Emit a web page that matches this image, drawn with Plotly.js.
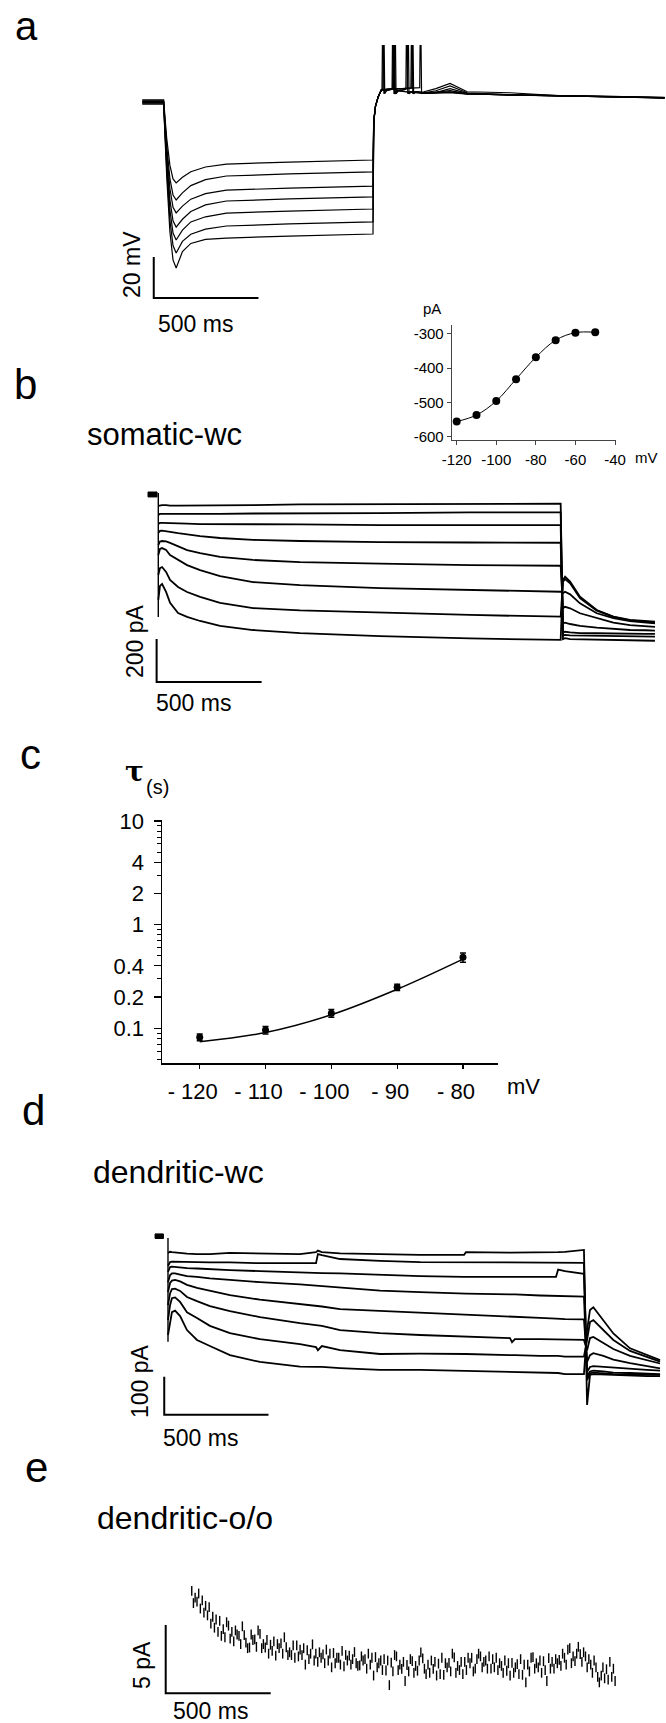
<!DOCTYPE html>
<html><head><meta charset="utf-8">
<script src="https://cdn.plot.ly/plotly-3.0.1.min.js"></script>
<style>html,body{margin:0;padding:0;background:#fff}#chart{width:666px;height:1723px}</style>
</head><body><div id="chart"></div>
<script>
// ---------------- Panel a : current-clamp voltage traces (time ms, mV rel. rest) ----------------
const A_T_STEP = [-102, -5, 0, 15, 30, 45, 60, 90, 130, 200, 300, 600, 1000];
const A_V1 = [1, 1, 1, -17.8, -30.8, -37.5, -39.5, -36.7, -34, -31.7, -30.3, -29.3, -28.3];
const A_V2 = [0.6, 0.6, 0.6, -21.5, -37.3, -45.4, -47.8, -44.3, -40.8, -37.9, -36.1, -35.1, -34.1];
const A_V3 = [0.3, 0.3, 0.3, -24.3, -42.2, -51.4, -54.1, -50.8, -47.4, -44.7, -43, -42, -41];
const A_V4 = [0, 0, 0, -27.5, -47.6, -58, -61, -57.2, -53.4, -50.2, -48.3, -47.3, -46.3];
const A_V5 = [-0.3, -0.3, -0.3, -30.3, -52.5, -63.9, -67.3, -62.5, -58.5, -56, -54.2, -53.2, -52.2];
const A_V6 = [-0.6, -0.6, -0.6, -33.2, -57.5, -70, -73.7, -68, -64.5, -62, -60.5, -59.5, -58.5];
const A_V7 = [-1, -1, -1, -36.5, -63.2, -77, -81, -73, -69, -67, -66.4, -65.4, -64.4];
// after the step (rebound + spikes)
const A_PT1 = [1003,1005,1012,1025,1040,1100,1150,1200,1223,1226,1228,1232,1244,1300,1368,1450,1654,1900,2150,2393];
const A_PV1 = [-11,-8,-2,2.6,5.9,6.3,6.6,6.8,7,40,40,4,5,6.5,9.1,5,4.5,3,2.6,1.8];
const A_PT2 = [1003,1005,1012,1025,1040,1100,1150,1185,1188,1190,1194,1206,1250,1300,1368,1450,1650,1900,2150,2393];
const A_PV2 = [-12,-8,-2,2.6,5.9,6.3,6.6,6.8,40,40,4,5,4.6,5.5,7.8,4.5,3.5,2.9,2.5,2.2];
const A_PT3 = [1003,1005,1012,1025,1040,1100,1150,1181,1184,1186,1190,1202,1250,1300,1368,1450,1650,1900,2150,2393];
const A_PV3 = [-13,-8,-2,2.6,5.9,6.3,6.6,6.8,40,40,4,5,4.5,4.6,6.5,4.2,3.3,3,2.7,2];
const A_PT4 = [1003,1005,1012,1025,1040,1070,1094,1097,1099,1103,1115,1150,1163,1166,1168,1172,1184,1250,1368,1450,1650,1900,2150,2393];
const A_PV4 = [-14,-8,-2,2.6,5.9,6.3,6.5,40,40,4,5.5,6,6.5,40,40,4,5,4.3,5.5,4.1,3.5,3.1,2.4,2.3];
const A_PT5 = [1003,1005,1012,1025,1040,1070,1101,1104,1106,1110,1122,1150,1157,1160,1162,1166,1178,1250,1368,1450,1650,1900,2150,2393];
const A_PV5 = [-16,-8,-2,2.6,5.9,6.3,6.5,40,40,4,5.5,6,6.5,40,40,4,5,4.4,5,4,3.4,2.9,2.6,2.1];
const A_PT6 = [1003,1005,1012,1025,1040,1047,1050,1052,1056,1065,1085,1097,1100,1102,1106,1118,1160,1250,1368,1450,1650,1900,2150,2393];
const A_PV6 = [-18,-8,-2,2.6,5.9,6.5,40,40,4,5.5,6,6.5,40,40,4,5.5,5,4.2,4.8,3.9,3.5,3,2.5,2.2];
const A_PT7 = [1003,1005,1012,1025,1040,1043,1046,1048,1052,1060,1080,1091,1094,1096,1100,1112,1150,1250,1368,1450,1650,1900,2150,2393];
const A_PV7 = [-20,-8,-2,2.6,5.9,6.5,40,40,4,5.5,6,6.5,40,40,4,5.5,5,4.2,4.5,3.8,3.6,3,2.6,2];
const SB_A_T = [-47, -47, 453];
const SB_A_V = [-75.6, -95.6, -95.6];

// ---------------- Inset: I-V (mV, pA) ----------------
const IV_V = [-120, -110, -100, -90, -80, -70, -60, -50];
const IV_I = [-556, -537, -496, -432, -368, -318, -296, -295];
const IV_XTICKS = [-120, -100, -80, -60, -40];
const IV_YTICKS = [-600, -500, -400, -300];

// ---------------- Panel b : somatic whole-cell currents (ms, pA) ----------------
const B_T = [0, 8, 18, 37, 56, 94, 137, 199, 294, 451, 675, 1056, 1484, 1916];
const B_I1 = [-51, -49, -47, -47, -49, -49, -49, -47, -47, -47, -44, -42, -40, -40];
const B_I2 = [-93, -88, -88, -88, -91, -91, -88, -88, -88, -86, -86, -84, -81, -81];
const B_I3 = [-135, -130, -130, -130, -130, -133, -133, -135, -135, -135, -137, -140, -140, -140];
const B_I4 = [-177, -167, -166, -167, -171, -177, -184, -191, -200, -209, -214, -219, -221, -222];
const B_I5 = [-233, -216, -214, -216, -223, -237, -256, -270, -288, -302, -312, -319, -326, -329];
const B_I6 = [-279, -251, -247, -256, -279, -302, -326, -349, -377, -405, -419, -433, -442, -450];
const B_I7 = [-372, -340, -335, -358, -395, -428, -451, -474, -502, -526, -537, -547, -558, -566];
const B_I8 = [-488, -423, -414, -451, -502, -549, -567, -586, -609, -628, -642, -656, -667, -674];
const B_TT = [1927, 1937, 1961, 2008, 2088, 2167, 2246, 2318, 2365];
const B_TI1 = [-670, -666, -670, -671, -673, -674, -676, -678, -678];
const B_TI2 = [-654, -651, -653, -654, -656, -657, -659, -659, -659];
const B_TI3 = [-640, -636, -639, -642, -643, -645, -646, -646, -646];
const B_TI4 = [-597, -594, -600, -609, -617, -623, -628, -629, -631];
const B_TI5 = [-527, -520, -527, -550, -573, -594, -605, -609, -613];
const B_TI6 = [-457, -450, -462, -504, -550, -573, -586, -592, -597];
const B_TI7 = [-403, -391, -411, -480, -538, -567, -583, -589, -594];
const B_TI8 = [-395, -380, -403, -473, -535, -566, -581, -586, -589];
const B_ON_T = [0, 0];
const B_ON_I = [9, -567];
const B_HOLD_T = [-49, -6, -6, -49, -49];
const B_HOLD_I = [14, 14, -9, -9, 14];
const SB_B_T = [-8, -8, 492];
const SB_B_I = [-670, -870, -870];

// ---------------- Panel c : time constant (mV, s) ----------------
const C_V = [-120, -110, -100, -90, -80];
const C_TAU = [0.082, 0.096, 0.140, 0.249, 0.484];
const C_ERR = [0.006, 0.008, 0.012, 0.017, 0.05];
const C_FIT = [0.074, 0.091, 0.135, 0.238, 0.465];
const C_XTICKS = [-120, -110, -100, -90, -80];
const C_XTEXT = ['- 120', '- 110', '- 100', '- 90', '- 80'];
const C_YTICKS = [0.1, 0.2, 0.4, 1, 2, 4, 10];
const C_YTEXT = ['0.1', '0.2', '0.4', '1', '2', '4', '10'];
const C_YMINOR = [0.05,0.06,0.07,0.08,0.09,0.3,0.5,0.6,0.7,0.8,0.9,3,5,6,7,8,9];

// ---------------- Panel d : dendritic whole-cell currents (ms, pA) ----------------
const D_T = [0, 10, 19, 34, 58, 91, 139, 201, 297, 441, 633, 710, 719, 738, 825, 1017, 1209, 1420, 1429, 1640, 1650, 1664, 1784, 1861, 1871, 1904, 1995];
const D_I1 = [-34, -31, -32, -33, -34, -36, -37, -37, -34, -36, -37, -32, -28, -32, -35, -37, -39, -39, -32, -33, -33, -33, -32, -32, -32, -31, -26];
const D_I2 = [-68, -58, -57, -57, -57, -58, -58, -59, -59, -61, -61, -61, -37, -40, -50, -55, -58, -59, -59, -59, -59, -59, -59, -60, -60, -60, -60];
const D_I3 = [-84, -71, -70, -71, -72, -74, -75, -76, -79, -82, -86, -87, -87, -87, -88, -92, -95, -97, -97, -96, -96, -96, -97, -97, -78, -82, -89];
const D_I4 = [-111, -92, -88, -88, -91, -95, -97, -101, -105, -111, -117, -120, -120, -121, -125, -133, -137, -141, -141, -143, -143, -143, -146, -147, -147, -149, -149];
const D_I5 = [-137, -113, -107, -105, -109, -118, -126, -134, -145, -157, -168, -174, -174, -175, -182, -187, -192, -197, -197, -203, -203, -203, -205, -207, -207, -208, -209];
const D_I6 = [-171, -140, -129, -128, -134, -150, -161, -174, -187, -203, -219, -224, -224, -226, -237, -245, -250, -254, -254, -258, -269, -261, -261, -262, -262, -263, -263];
const D_I7 = [-211, -171, -153, -151, -163, -190, -205, -226, -245, -261, -274, -282, -290, -279, -290, -300, -299, -300, -300, -303, -303, -303, -305, -305, -305, -307, -307];
const D_I8 = [-250, -211, -190, -186, -200, -237, -263, -279, -303, -321, -333, -334, -334, -334, -337, -342, -342, -345, -345, -347, -347, -347, -350, -350, -350, -353, -353];
const D_TT = [2010, 2024, 2040, 2088, 2136, 2216, 2296, 2360];
const D_TI1 = [-434, -355, -353, -354, -355, -357, -358, -358];
const D_TI2 = [-369, -351, -349, -351, -353, -354, -355, -355];
const D_TI3 = [-358, -346, -344, -346, -349, -350, -351, -353];
const D_TI4 = [-347, -334, -332, -334, -337, -340, -342, -344];
const D_TI5 = [-321, -303, -298, -305, -315, -324, -332, -338];
const D_TI6 = [-290, -258, -255, -271, -287, -305, -316, -325];
const D_TI7 = [-263, -216, -211, -237, -263, -292, -308, -320];
const D_TI8 = [-237, -184, -177, -211, -246, -285, -303, -316];
const D_ON_T = [0, 0];
const D_ON_I = [5, -268];
const D_HOLD_T = [-62, -22, -22, -62, -62];
const D_HOLD_I = [16, 16, 4, 4, 16];
const SB_D_T = [-18, -18, 482];
const SB_D_I = [-360, -460, -460];

// ---------------- Panel e : dendritic outside-out current (ms, pA) ----------------
const E_T = [124,149,174,199,224,249,274,299,324,349,374,399,424,449,474,499,524,549,574,599,624,649,674,699,724,749,774,799,824,849,874,899,924,949,974,999,1024,1049,1074,1099,1124,1149,1174,1199,1224,1249,1274,1299,1324,1349,1374,1399,1424,1449,1474,1499,1524,1549,1574,1599,1624,1649,1674,1699,1724,1749,1774,1799,1824,1849,1874,1899,1924,1949,1974,1999,2024,2049,2074,2099,2124];
const E_TB = [132,157,182,207,232,257,282,307,332,357,382,407,432,457,482,507,532,557,582,607,632,657,682,707,732,757,782,807,832,857,882,907,932,957,982,1007,1032,1057,1082,1107,1132,1157,1182,1207,1232,1257,1282,1307,1332,1357,1382,1407,1432,1457,1482,1507,1532,1557,1582,1607,1632,1657,1682,1707,1732,1757,1782,1807,1832,1857,1882,1907,1932,1957,1982,2007,2032,2057,2082,2107,2132];
const E_TC = [140,165,190,215,240,265,290,315,340,365,390,415,440,465,490,515,540,565,590,615,640,665,690,715,740,765,790,815,840,865,890,915,940,965,990,1015,1040,1065,1090,1115,1140,1165,1190,1215,1240,1265,1290,1315,1340,1365,1390,1415,1440,1465,1490,1515,1540,1565,1590,1615,1640,1665,1690,1715,1740,1765,1790,1815,1840,1865,1890,1915,1940,1965,1990,2015,2040,2065,2090,2115,2140];
const E_A = [7.5,6.7,6.8,5.7,5.6,4.5,4.7,4.95,3.8,4.2,4.25,3.35,3.95,4.35,3.35,3.55,2.75,3.65,3.37,2.8,3.5,2.8,3.15,3.58,2.3,2.85,2.4,2.95,2.6,1.97,2.75,3.02,2.05,2.5,2.1,2.65,2.4,1.67,2.25,2.7,1.78,2.07,2.35,1.65,2.55,2.1,1.78,2.17,1.35,2.23,2.63,1.7,2.3,2.2,1.8,2.7,2.4,1.8,2.6,2.0,1.65,2.23,2.13,1.35,2.1,2.65,1.9,2.35,2.57,1.8,2.45,2.6,3.3,2.35,2.86,2.7,2.1,1.9,1.3,1.76,1.2];
const E_B = [6.6,7.3,5.9,6.3,4.8,5.3,4.1,4.0,4.6,3.6,3.7,4.3,3.4,3.3,3.9,3.1,3.6,2.9,2.8,3.5,2.7,3.3,2.5,2.4,3.0,2.2,2.9,2.2,2.1,2.8,2.1,2.2,2.7,1.8,2.6,1.9,1.7,2.4,1.6,1.7,2.3,1.6,1.5,2.4,1.8,1.5,2.3,1.4,2.2,1.6,1.5,2.3,1.7,2.6,2.5,1.9,1.8,2.5,1.7,1.5,2.2,1.5,1.4,2.1,1.6,1.8,2.4,1.7,1.8,2.5,2.0,2.1,2.2,2.9,2.3,1.9,1.5,1.2,1.9,1.0,1.8];
const E_C = [7.0,6.2,6.4,5.1,5.4,4.2,5.2,4.5,4.3,4.9,3.3,3.9,4.6,3.6,2.9,3.8,3.3,4.1,3.0,2.6,3.2,2.1,2.9,2.9,2.6,3.2,1.9,2.6,3.1,2.4,2.5,2.0,2.4,2.9,1.3,2.2,2.5,0.6,2.8,2.1,0.9,2.5,2.0,3.0,1.4,2.4,1.3,2.6,1.9,2.9,2.0,1.4,2.6,1.6,2.9,2.3,2.7,1.9,2.2,2.4,1.3,1.9,2.5,0.8,2.6,2.2,1.5,0.9,2.3,2.2,2.9,3.2,2.7,3.4,3.0,2.5,2.4,0.8,1.1,2.3,0.9];
const SB_E_T = [0, 0, 500];
const SB_E_I = [5, 0, 0];

// ---------------- build ----------------
const W = 666, H = 1723;
const FONT = 'Liberation Sans, Arial, sans-serif';
const dx = (a, b) => [a / W, b / W];
const dy = (a, b) => [1 - b / H, 1 - a / H];
const traces = [];
function ln(x, y, xa, ya, w) {
  traces.push({x: x, y: y, xaxis: xa, yaxis: ya, type: 'scatter', mode: 'lines',
    line: {color: '#000', width: w}, hoverinfo: 'skip'});
}
function fillPoly(x, y, xa, ya) {
  traces.push({x: x, y: y, xaxis: xa, yaxis: ya, type: 'scatter', mode: 'lines', fill: 'toself',
    fillcolor: '#000', line: {color: '#000', width: 1}, hoverinfo: 'skip'});
}

// a
const A_STEP = [A_V1, A_V2, A_V3, A_V4, A_V5, A_V6, A_V7];
const A_PT = [A_PT1, A_PT2, A_PT3, A_PT4, A_PT5, A_PT6, A_PT7];
const A_PV = [A_PV1, A_PV2, A_PV3, A_PV4, A_PV5, A_PV6, A_PV7];
for (let i = 0; i < 7; i++) ln(A_T_STEP.concat(A_PT[i]), A_STEP[i].concat(A_PV[i]), 'x', 'y', 1.2);
ln(SB_A_T, SB_A_V, 'x', 'y', 2);

// inset
traces.push({x: IV_V, y: IV_I, xaxis: 'x2', yaxis: 'y2', type: 'scatter', mode: 'lines+markers',
  line: {color: '#000', width: 1, shape: 'spline', smoothing: 1}, marker: {color: '#000', size: 8}, hoverinfo: 'skip'});

// b
const B_M = [B_I1, B_I2, B_I3, B_I4, B_I5, B_I6, B_I7, B_I8];
const B_TL = [B_TI1, B_TI2, B_TI3, B_TI4, B_TI5, B_TI6, B_TI7, B_TI8];
for (let i = 0; i < 8; i++) ln(B_T.concat(B_TT), B_M[i].concat(B_TL[i]), 'x3', 'y3', 1.8);
ln(B_ON_T, B_ON_I, 'x3', 'y3', 1.4);
fillPoly(B_HOLD_T, B_HOLD_I, 'x3', 'y3');
ln(SB_B_T, SB_B_I, 'x3', 'y3', 2);

// c
traces.push({x: C_V, y: C_FIT, xaxis: 'x4', yaxis: 'y4', type: 'scatter', mode: 'lines',
  line: {color: '#000', width: 1.5, shape: 'spline'}, hoverinfo: 'skip'});
traces.push({x: C_V, y: C_TAU, xaxis: 'x4', yaxis: 'y4', type: 'scatter', mode: 'markers',
  marker: {color: '#000', size: 7},
  error_y: {type: 'data', array: C_ERR, visible: true, color: '#000', thickness: 1.5, width: 3}, hoverinfo: 'skip'});

// d
const D_M = [D_I1, D_I2, D_I3, D_I4, D_I5, D_I6, D_I7, D_I8];
const D_TL = [D_TI1, D_TI2, D_TI3, D_TI4, D_TI5, D_TI6, D_TI7, D_TI8];
for (let i = 0; i < 8; i++) ln(D_T.concat(D_TT), D_M[i].concat(D_TL[i]), 'x5', 'y5', 1.8);
ln(D_ON_T, D_ON_I, 'x5', 'y5', 1.4);
fillPoly(D_HOLD_T, D_HOLD_I, 'x5', 'y5');
ln(SB_D_T, SB_D_I, 'x5', 'y5', 2);

// e : noisy samples drawn as short vertical dashes
[[E_T, E_A], [E_TB, E_B], [E_TC, E_C]].forEach(function (s) {
  traces.push({x: s[0], y: s[1], xaxis: 'x6', yaxis: 'y6', type: 'scatter', mode: 'markers',
    marker: {symbol: 'line-ns', size: 7, color: '#000', line: {color: '#000', width: 1.4}}, hoverinfo: 'skip'});
});
ln(SB_E_T, SB_E_I, 'x6', 'y6', 2);

function hid(domain, range, anchor) {
  return {domain: domain, range: range, anchor: anchor, visible: false, fixedrange: true};
}
function ann(text, x, y, size, extra) {
  return Object.assign({text: text, x: x / W, y: 1 - y / H, xref: 'paper', yref: 'paper', showarrow: false,
    xanchor: 'center', yanchor: 'middle', font: {family: FONT, size: size, color: '#000'}}, extra || {});
}

const layout = {
  width: W, height: H, margin: {l: 0, r: 0, t: 0, b: 0},
  paper_bgcolor: '#fff', plot_bgcolor: 'rgba(0,0,0,0)', showlegend: false,
  font: {family: FONT, color: '#000'},
  xaxis: hid(dx(100, 666), [-303.7, 2399.2], 'y'),
  yaxis: hid(dy(45, 340), [-116.1, 27.8], 'x'),
  xaxis2: {domain: dx(451.7, 616), range: [-122.53, -39.5], anchor: 'y2', showline: true, linecolor: '#444', linewidth: 1,
    ticks: 'outside', ticklen: 4, tickcolor: '#444', tickvals: IV_XTICKS, ticktext: IV_XTICKS.map(String),
    tickfont: {size: 15, color: '#000'}, showgrid: false, zeroline: false, ticklabelstandoff: 2, fixedrange: true},
  yaxis2: {domain: dy(325, 440), range: [-610, -273.7], anchor: 'x2', showline: true, linecolor: '#444', linewidth: 1,
    ticks: 'outside', ticklen: 4, tickcolor: '#444', tickvals: IV_YTICKS, ticktext: IV_YTICKS.map(String),
    tickfont: {size: 15, color: '#000'}, showgrid: false, zeroline: false, fixedrange: true},
  xaxis3: hid(dx(100, 666), [-277.6, 2417.6], 'y3'),
  yaxis3: hid(dy(480, 700), [-953.5, 69.8], 'x3'),
  xaxis4: {domain: dx(162, 498), range: [-125.73, -74.68], anchor: 'y4', showline: true, linecolor: '#000', linewidth: 1.5,
    ticks: 'outside', ticklen: 4, tickwidth: 1.2, tickcolor: '#000', tickvals: C_XTICKS, ticktext: C_XTEXT,
    tickfont: {size: 22, color: '#000'}, ticklabelshift: -7, ticklabelstandoff: 4, showgrid: false, zeroline: false, fixedrange: true},
  yaxis4: {domain: dy(820, 1063), type: 'log', range: [-1.335, 1.0096], anchor: 'x4', showline: true, linecolor: '#000', linewidth: 1.5,
    ticks: 'outside', ticklen: 7, tickwidth: 1.2, tickcolor: '#000', tickvals: C_YTICKS, ticktext: C_YTEXT,
    tickfont: {size: 22, color: '#000'}, ticklabelstandoff: 5, showgrid: false, zeroline: false, fixedrange: true,
    minor: {tickvals: C_YMINOR, ticks: 'outside', ticklen: 3.5, tickcolor: '#000', tickwidth: 1, showgrid: false}},
  xaxis5: hid(dx(100, 666), [-326.1, 2388.5], 'y5'),
  yaxis5: hid(dy(1225, 1430), [-500, 39.5], 'x5'),
  xaxis6: hid(dx(100, 666), [-312.9, 2382.4], 'y6'),
  yaxis6: hid(dy(1575, 1715), [-1.587, 8.654], 'x6'),
  annotations: [
    ann('a', 26, 2, 40, {yanchor: 'top'}), ann('b', 25, 385, 42), ann('c', 30, 754, 42), ann('d', 33, 1110, 42), ann('e', 36, 1467, 42),
    ann('somatic-wc', 85, 434, 31, {xanchor: 'left'}),
    ann('dendritic-wc', 91, 1172, 32, {xanchor: 'left'}),
    ann('dendritic-o/o', 95, 1518, 32, {xanchor: 'left'}),
    ann('20 mV', 132, 265, 23, {textangle: -90}),
    ann('500 ms', 195, 324, 23),
    ann('pA', 432, 308, 15),
    ann('mV', 646, 458, 15),
    ann('200 pA', 135, 641, 23, {textangle: -90}),
    ann('500 ms', 193, 703, 23),
    ann('<b>τ</b>', 134, 771, 28, {font: {family: 'DejaVu Serif, serif', size: 28, color: '#000'}}),
    ann('(s)', 157, 787, 20),
    ann('mV', 523, 1086, 22),
    ann('100 pA', 140, 1381, 23, {textangle: -90}),
    ann('500 ms', 200, 1438, 23),
    ann('5 pA', 142, 1665, 23, {textangle: -90}),
    ann('500 ms', 210, 1711, 23)
  ]
};
Plotly.newPlot('chart', traces, layout, {staticPlot: true, displayModeBar: false});
</script>
</body></html>
